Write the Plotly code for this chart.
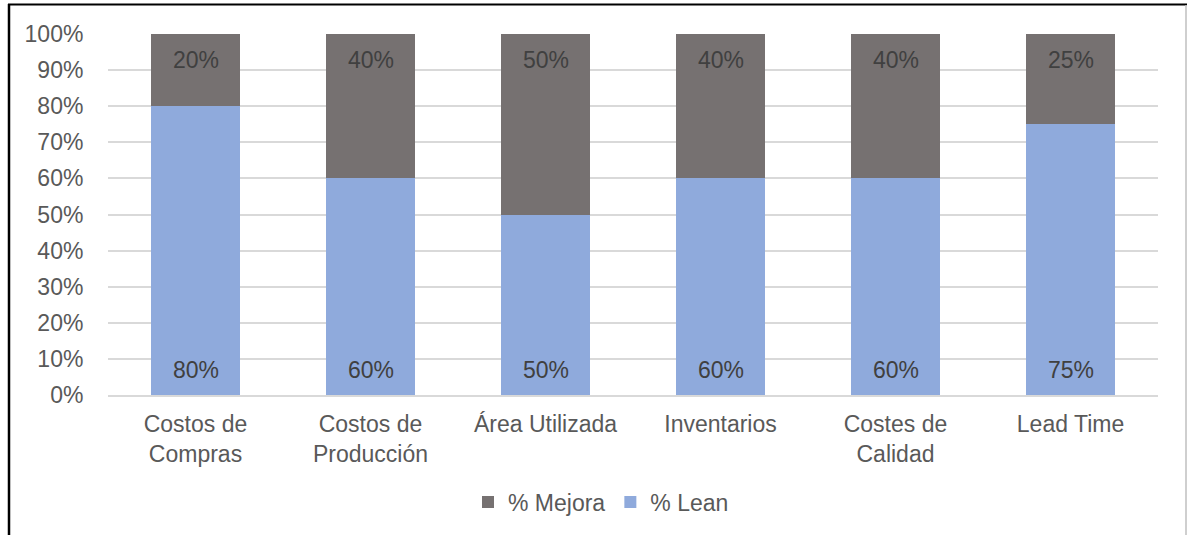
import plotly.graph_objects as go

# Category labels and series values (percent)
categorias = ["Costos de<br>Compras", "Costos de<br>Producción", "Área Utilizada",
              "Inventarios", "Costes de<br>Calidad", "Lead Time"]
pct_lean = [80, 60, 50, 60, 60, 75]
pct_mejora = [20, 40, 50, 40, 40, 25]

W, H = 1187, 535
L, R, T, B = 108, 29, 34, 140
PW, PH = W - L - R, H - T - B


def px_x(p):
    return (p - L) / PW


def px_y(p):
    return 1 - (p - T) / PH


GRIS = "#767171"
AZUL = "#8FAADC"
FONT = "Liberation Sans, Arial, sans-serif"
FS = 23

fig = go.Figure()
fig.add_trace(go.Bar(x=categorias, y=pct_lean, name="% Lean",
                     marker=dict(color=AZUL, line=dict(width=0))))
fig.add_trace(go.Bar(x=categorias, y=pct_mejora, name="% Mejora",
                     marker=dict(color=GRIS, line=dict(width=0))))

# Value labels: Lean near the base, Mejora near the top of the stack
ann = []
for c, a, b in zip(categorias, pct_lean, pct_mejora):
    ann.append(dict(x=c, y=0, text=f"{a}%", showarrow=False, yanchor="middle",
                    yshift=25, font=dict(family=FONT, size=FS, color="#404040")))
    ann.append(dict(x=c, y=a + b, text=f"{b}%", showarrow=False, yanchor="middle",
                    yshift=-26, font=dict(family=FONT, size=FS, color="#404040")))

# Outer frame lines
shapes = [
    dict(type="line", xref="paper", yref="paper", x0=px_x(8), x1=px_x(1187),
         y0=px_y(4.5), y1=px_y(4.5), line=dict(color="black", width=2)),
    dict(type="line", xref="paper", yref="paper", x0=px_x(9), x1=px_x(9),
         y0=px_y(4), y1=px_y(536), line=dict(color="black", width=2.5)),
    dict(type="line", xref="paper", yref="paper", x0=px_x(1186), x1=px_x(1186),
         y0=px_y(5), y1=px_y(536), line=dict(color="#BFBFBF", width=1.5)),
]

fig.update_layout(
    width=W, height=H,
    margin=dict(l=L, r=R, t=T, b=B, pad=0),
    barmode="stack", bargap=0.497,
    paper_bgcolor="white", plot_bgcolor="white",
    font=dict(family=FONT, size=FS, color="#595959"),
    showlegend=True,
    legend=dict(orientation="h", traceorder="reversed", x=px_x(601), xanchor="center",
                y=px_y(502), yanchor="middle", font=dict(family=FONT, size=FS, color="#595959"),
                itemwidth=30),
    annotations=ann,
    shapes=shapes,
)
fig.update_yaxes(range=[0, 100], dtick=10, ticksuffix="%", showgrid=True,
                 gridcolor="#D9D9D9", gridwidth=1.5, zeroline=False, showline=False,
                 ticks="outside", ticklen=19, tickcolor="rgba(0,0,0,0)",
                 tickfont=dict(family=FONT, size=FS, color="#595959"))
fig.update_xaxes(showline=True, linecolor="#D9D9D9", linewidth=1.5, showgrid=False,
                 ticks="outside", ticklen=8, tickcolor="rgba(0,0,0,0)",
                 tickfont=dict(family=FONT, size=FS, color="#595959"), tickangle=0)

fig.write_html("out.html")
